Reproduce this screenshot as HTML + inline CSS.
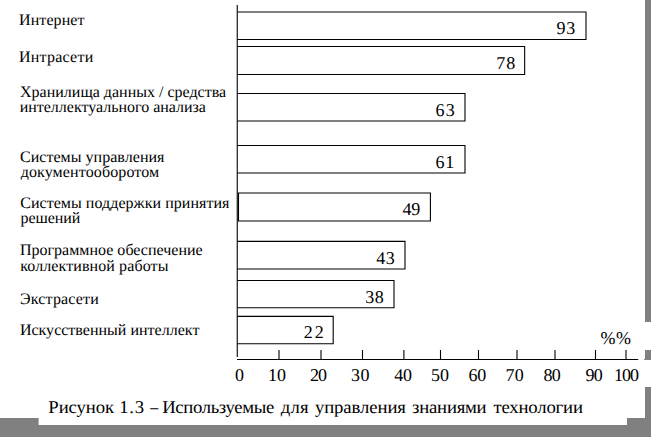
<!DOCTYPE html>
<html lang="ru"><head><meta charset="utf-8"><title>Рисунок 1.3</title>
<style>
html,body{margin:0;padding:0;background:#fff;}
body{width:651px;height:437px;overflow:hidden;position:relative;}
svg{position:absolute;left:0;top:0;display:block;}
text{font-family:"Liberation Serif",serif;fill:#000;}
text.g{text-rendering:geometricPrecision;}
</style></head><body>
<svg width="651" height="437" viewBox="0 0 651 437">
<rect x="0" y="0" width="651" height="437" fill="#fff"/>
<rect x="645" y="0" width="6" height="322" fill="#808080"/>
<rect x="645" y="350" width="6" height="9" fill="#808080"/>
<rect x="645" y="387" width="6" height="50" fill="#808080"/>
<rect x="627" y="418" width="24" height="19" fill="#808080"/>
<rect x="0" y="425" width="651" height="12" fill="#808080"/>
<rect x="0" y="418" width="38.6" height="19" fill="#808080"/>
<g stroke="#000" stroke-width="1.1" fill="none" stroke-linecap="butt">
<line x1="237.25" y1="5" x2="237.25" y2="357"/>
<line x1="237" y1="359.5" x2="638.2" y2="359.5"/>
<line x1="644" y1="359.4" x2="651" y2="359.4" stroke="#555" stroke-width="0.8"/>
<line x1="279.0" y1="350" x2="279.0" y2="359.5"/>
<line x1="321.0" y1="350" x2="321.0" y2="359.5"/>
<line x1="362.5" y1="350" x2="362.5" y2="359.5"/>
<line x1="403.9" y1="350" x2="403.9" y2="359.5"/>
<line x1="440.5" y1="350" x2="440.5" y2="359.5"/>
<line x1="478.5" y1="350" x2="478.5" y2="359.5"/>
<line x1="517.0" y1="350" x2="517.0" y2="359.5"/>
<line x1="555.0" y1="350" x2="555.0" y2="359.5"/>
<line x1="595.5" y1="350" x2="595.5" y2="359.5"/>
<line x1="626.0" y1="350" x2="626.0" y2="359.5"/>
<path d="M237.25 12.0H586.0V39.5H237.25"/>
<path d="M237.25 46.5H524.65V74.5H237.25"/>
<path d="M237.25 93.5H465.0V121.0H237.25"/>
<path d="M237.25 145.5H465.0V173.0H237.25"/>
<path d="M238.5 193.0H430.4V221.0H238.5Z"/>
<path d="M237.25 241.4H405.0V269.0H237.25"/>
<path d="M237.25 280.5H394.0V307.8H237.25"/>
<path d="M237.25 316.4H333.2V343.7H237.25"/>
</g>
<text class="g" transform="translate(19.02 25.00) scale(1.0 1)" font-size="16" textLength="65.49" lengthAdjust="spacing" xml:space="preserve">Интернет</text>
<text class="g" transform="translate(19.02 62.00) scale(1.0 1)" font-size="16" textLength="74.21" lengthAdjust="spacing" xml:space="preserve">Интрасети</text>
<text class="g" transform="translate(20.06 97.00) scale(1.0 1)" font-size="16" textLength="206.07" lengthAdjust="spacing" xml:space="preserve">Хранилища данных / средства</text>
<text class="g" transform="translate(19.70 112.00) scale(1.0 1)" font-size="16" textLength="186.29" lengthAdjust="spacing" xml:space="preserve">интеллектуального анализа</text>
<text class="g" transform="translate(19.98 162.00) scale(1.0 1)" font-size="16" textLength="144.49" lengthAdjust="spacing" xml:space="preserve">Системы управления</text>
<text class="g" transform="translate(20.63 177.00) scale(1.0 1)" font-size="16" textLength="138.59" lengthAdjust="spacing" xml:space="preserve">документооборотом</text>
<text class="g" transform="translate(20.19 208.00) scale(1.0 1)" font-size="16" textLength="209.28" lengthAdjust="spacing" xml:space="preserve">Системы поддержки принятия</text>
<text class="g" transform="translate(20.49 223.00) scale(1.0 1)" font-size="16" textLength="59.93" lengthAdjust="spacing" xml:space="preserve">решений</text>
<text class="g" transform="translate(19.89 255.00) scale(1.0 1)" font-size="16" textLength="182.81" lengthAdjust="spacing" xml:space="preserve">Программное обеспечение</text>
<text class="g" transform="translate(20.21 271.00) scale(1.0 1)" font-size="16" textLength="148.19" lengthAdjust="spacing" xml:space="preserve">коллективной работы</text>
<text class="g" transform="translate(20.00 304.00) scale(1.0 1)" font-size="16" textLength="78.81" lengthAdjust="spacing" xml:space="preserve">Экстрасети</text>
<text class="g" transform="translate(19.89 335.00) scale(1.0 1)" font-size="16" textLength="179.51" lengthAdjust="spacing" xml:space="preserve">Искусственный интеллект</text>
<text class="g" transform="translate(556.61 34.00) scale(1.0 1)" font-size="18" textLength="18.55" lengthAdjust="spacing" xml:space="preserve">93</text>
<text class="g" transform="translate(496.32 69.00) scale(1.0 1)" font-size="18" textLength="18.96" lengthAdjust="spacing" xml:space="preserve">78</text>
<text class="g" transform="translate(435.45 116.00) scale(1.0 1)" font-size="18" textLength="19.30" lengthAdjust="spacing" xml:space="preserve">63</text>
<text class="g" transform="translate(435.51 168.00) scale(1.0 1)" font-size="18" textLength="18.77" lengthAdjust="spacing" xml:space="preserve">61</text>
<text class="g" transform="translate(402.59 215.00) scale(1.0 1)" font-size="18" textLength="17.71" lengthAdjust="spacing" xml:space="preserve">49</text>
<text class="g" transform="translate(376.23 264.00) scale(1.0 1)" font-size="18" textLength="18.61" lengthAdjust="spacing" xml:space="preserve">43</text>
<text class="g" transform="translate(365.15 303.00) scale(1.0 1)" font-size="18" textLength="18.69" lengthAdjust="spacing" xml:space="preserve">38</text>
<text class="g" transform="translate(303.63 338.00) scale(1.0 1)" font-size="18" textLength="20.03" lengthAdjust="spacing" xml:space="preserve">22</text>
<text class="g" transform="translate(234.97 381.00) scale(1.0 1)" font-size="18" textLength="5.24" lengthAdjust="spacing" xml:space="preserve">0</text>
<text class="g" transform="translate(267.96 381.00) scale(1.0 1)" font-size="18" textLength="18.02" lengthAdjust="spacing" xml:space="preserve">10</text>
<text class="g" transform="translate(310.00 381.00) scale(1.0 1)" font-size="18" textLength="16.97" lengthAdjust="spacing" xml:space="preserve">20</text>
<text class="g" transform="translate(351.04 381.00) scale(1.0 1)" font-size="18" textLength="18.58" lengthAdjust="spacing" xml:space="preserve">30</text>
<text class="g" transform="translate(394.23 381.00) scale(1.0 1)" font-size="18" textLength="17.88" lengthAdjust="spacing" xml:space="preserve">40</text>
<text class="g" transform="translate(431.02 381.00) scale(1.0 1)" font-size="18" textLength="17.95" lengthAdjust="spacing" xml:space="preserve">50</text>
<text class="g" transform="translate(468.51 381.00) scale(1.0 1)" font-size="18" textLength="17.63" lengthAdjust="spacing" xml:space="preserve">60</text>
<text class="g" transform="translate(505.42 381.00) scale(1.0 1)" font-size="18" textLength="18.39" lengthAdjust="spacing" xml:space="preserve">70</text>
<text class="g" transform="translate(543.42 381.00) scale(1.0 1)" font-size="18" textLength="17.36" lengthAdjust="spacing" xml:space="preserve">80</text>
<text class="g" transform="translate(585.61 381.00) scale(1.0 1)" font-size="18" textLength="17.20" lengthAdjust="spacing" xml:space="preserve">90</text>
<text class="g" transform="translate(613.89 381.00) scale(1.0 1)" font-size="18" textLength="25.24" lengthAdjust="spacing" xml:space="preserve">100</text>
<text class="g" transform="translate(600.46 344.00) scale(1.0 1)" font-size="18" textLength="30.65" lengthAdjust="spacing" xml:space="preserve">%%</text>
<text class="g" transform="translate(48.31 413.00) scale(1.04 1)" font-size="18" textLength="63.27" lengthAdjust="spacing" xml:space="preserve">Рисунок</text>
<text class="g" transform="translate(119.34 413.00) scale(1.04 1)" font-size="18" textLength="23.78" lengthAdjust="spacing" xml:space="preserve">1.3</text>
<text class="g" transform="translate(150.29 413.00) scale(0.88 1)" font-size="18" textLength="2.77" lengthAdjust="spacing" xml:space="preserve">–</text>
<text class="g" transform="translate(162.14 413.00) scale(1.04 1)" font-size="18" textLength="107.79" lengthAdjust="spacing" xml:space="preserve">Используемые</text>
<text class="g" transform="translate(280.87 413.00) scale(1.04 1)" font-size="18" textLength="26.58" lengthAdjust="spacing" xml:space="preserve">для</text>
<text class="g" transform="translate(314.93 413.00) scale(1.04 1)" font-size="18" textLength="87.53" lengthAdjust="spacing" xml:space="preserve">управления</text>
<text class="g" transform="translate(412.12 413.00) scale(1.04 1)" font-size="18" textLength="71.65" lengthAdjust="spacing" xml:space="preserve">знаниями</text>
<text class="g" transform="translate(493.40 413.00) scale(1.04 1)" font-size="18" textLength="86.12" lengthAdjust="spacing" xml:space="preserve">технологии</text>
</svg>
</body></html>
